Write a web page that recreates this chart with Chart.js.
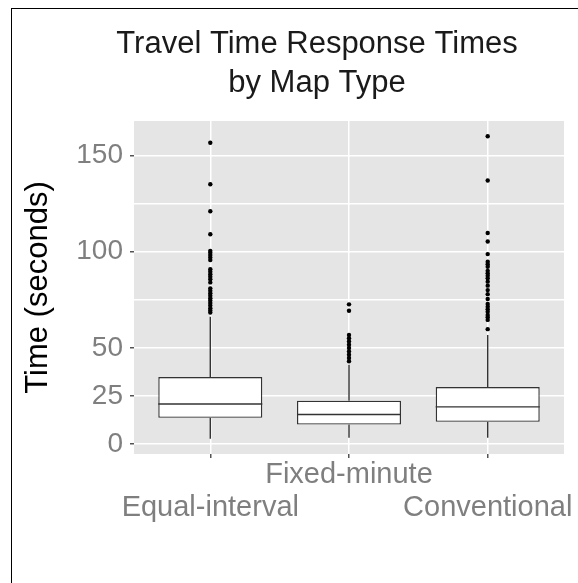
<!DOCTYPE html>
<html>
<head>
<meta charset="utf-8">
<script src="https://cdn.jsdelivr.net/npm/chart.js@4/dist/chart.umd.min.js"></script>
<style>
  body { margin: 0; background: #fff; }
  #wrap { width: 578px; height: 583px; }
</style>
</head>
<body>
<div id="wrap"><canvas id="boxChart" width="578" height="583"></canvas></div>
<script>
// categories and which label line each one sits on (ggplot staggered labels)
const categories = ["Equal-interval", "Fixed-minute", "Conventional"];
const labelLine = [1, 0, 1];

// box stats (seconds)
const whiskerLow = [2.7, 3.2, 3.2];
const q1 = [13.6, 10.1, 11.5];
const medians = [20.8, 15.3, 19.3];
const q3 = [34.8, 22.5, 29.6];
const whiskerHigh = [66.2, 41.2, 56.7];

const outliersEqual = [156.6, 135, 121, 109, 100.4, 99.4, 98.2, 97, 95.6,
    90.8, 89.5, 88.3, 86.9, 85.6, 84, 80.9, 79.7, 78.4, 77.1, 75.8, 74.6,
    73.3, 72, 70.6, 69.4, 68.3];
const outliersFixed = [72.6, 69.3, 56.7, 55, 53.3, 51.6, 49.9, 48.1, 46.4, 44.7, 43];
const outliersConv = [160, 137, 109.7, 105.3, 98.7, 94.7, 93.5, 92.1, 90, 88.7,
    87.5, 86.1, 84.4, 82.3, 80, 77.9, 75.4, 72.8, 71.4, 70, 68.7, 67.1, 65.9,
    64.5, 59.7];

const yTicks = [0, 25, 50, 100, 150];

const FONT = "'Liberation Sans', Arial, Helvetica, sans-serif";

let outlierPoints = []
;[outliersEqual, outliersFixed, outliersConv].forEach(function(list, i) {
    list.forEach(function(v) { outlierPoints.push({x: i, y: v}) })
})

// grey panel + outer frame
const panelPlugin = {
    id: "panel",
    beforeDraw(chart) {
        const ctx = chart.ctx, a = chart.chartArea
        ctx.save()
        ctx.fillStyle = "#e5e5e5"
        ctx.fillRect(a.left, a.top, a.right - a.left, a.bottom - a.top)
        ctx.strokeStyle = "#000"
        ctx.lineWidth = 1
        ctx.strokeRect(11.5, 8.5, 700, 700)
        ctx.restore()
    }
}

// whiskers under the boxes, medians on top
const boxPlugin = {
    id: "boxExtras",
    beforeDatasetsDraw(chart) {
        const ctx = chart.ctx, x = chart.scales.x, y = chart.scales.y
        ctx.save()
        ctx.strokeStyle = "#333"
        ctx.lineWidth = 1.4
        for (let i = 0; i < categories.length; i++) {
            const px = x.getPixelForValue(i)
            ctx.beginPath()
            ctx.moveTo(px, y.getPixelForValue(whiskerLow[i]))
            ctx.lineTo(px, y.getPixelForValue(q1[i]))
            ctx.moveTo(px, y.getPixelForValue(q3[i]))
            ctx.lineTo(px, y.getPixelForValue(whiskerHigh[i]))
            ctx.stroke()
        }
        ctx.restore()
    },
    afterDatasetDraw(chart, args) {
        if (args.index !== 0) return
        const ctx = chart.ctx, y = chart.scales.y
        const bars = chart.getDatasetMeta(0).data
        ctx.save()
        ctx.strokeStyle = "#333"
        ctx.lineWidth = 1.4
        bars.forEach(function(bar, i) {
            const py = y.getPixelForValue(medians[i])
            ctx.beginPath()
            ctx.moveTo(bar.x - bar.width / 2, py)
            ctx.lineTo(bar.x + bar.width / 2, py)
            ctx.stroke()
        })
        ctx.restore()
    }
}

// title centred like the original (over the uncropped plot)
const titlePlugin = {
    id: "bigTitle",
    afterDraw(chart) {
        const ctx = chart.ctx
        ctx.save()
        ctx.fillStyle = "#1a1a1a"
        ctx.font = "31px " + FONT
        ctx.textAlign = "center"
        ctx.textBaseline = "alphabetic"
        ctx.fillText("Travel Time Response Times", 317, 53)
        ctx.fillText("by Map Type", 317, 92)
        ctx.restore()
    }
}

new Chart("boxChart", {
    type: "bar",
    data: {
        datasets: [{
            label: "box",
            data: categories.map(function(c, i) { return {x: i, y: [q1[i], q3[i]]} }),
            backgroundColor: "#ffffff",
            borderColor: "#333333",
            borderWidth: 1.4,
            borderSkipped: false,
            barPercentage: 0.75,
            categoryPercentage: 1
        }, {
            type: "scatter",
            label: "outliers",
            data: outlierPoints,
            pointRadius: 2.2,
            pointBackgroundColor: "#000",
            pointBorderWidth: 0
        }]
    },
    options: {
        responsive: false,
        animation: false,
        devicePixelRatio: 1,
        layout: { padding: { top: 121, left: 0, right: 14, bottom: 0 } },
        plugins: {
            legend: { display: false },
            tooltip: { enabled: false },
            title: { display: false }
        },
        scales: {
            x: {
                type: "linear",
                min: -0.55,
                max: 2.55,
                offset: false,
                border: { display: false },
                grid: { offset: false, color: "#ffffff", lineWidth: 1.5, tickLength: 4, tickColor: "#555", drawTicks: true },
                afterBuildTicks: function(scale) {
                    scale.ticks = categories.map(function(c, i) { return {value: i} })
                },
                afterFit: function(scale) { scale.height = 129 },
                ticks: {
                    autoSkip: false,
                    maxRotation: 0,
                    padding: 1,
                    color: "#7f7f7f",
                    font: { family: FONT, size: 29, lineHeight: 1.12 },
                    callback: function(v) {
                        return labelLine[v] === 1 ? ["", categories[v]] : [categories[v]]
                    }
                }
            },
            y: {
                min: -5.2,
                max: 167.9,
                border: { display: false },
                grid: {
                    color: "#ffffff",
                    lineWidth: 1.5,
                    tickLength: 4,
                    tickColor: function(c) { return yTicks.includes(c.tick.value) ? "#555" : "transparent" }
                },
                afterFit: function(scale) { scale.width = 134 },
                ticks: {
                    stepSize: 25,
                    includeBounds: false,
                    padding: 7,
                    color: "#7f7f7f",
                    font: { family: FONT, size: 28 },
                    callback: function(v) { return yTicks.includes(v) ? v : "" }
                },
                title: {
                    display: true,
                    text: "Time (seconds)",
                    color: "#000",
                    font: { family: FONT, size: 31 },
                    padding: { top: 20, bottom: 0 }
                }
            }
        }
    },
    plugins: [panelPlugin, boxPlugin, titlePlugin]
})
</script>
</body>
</html>
